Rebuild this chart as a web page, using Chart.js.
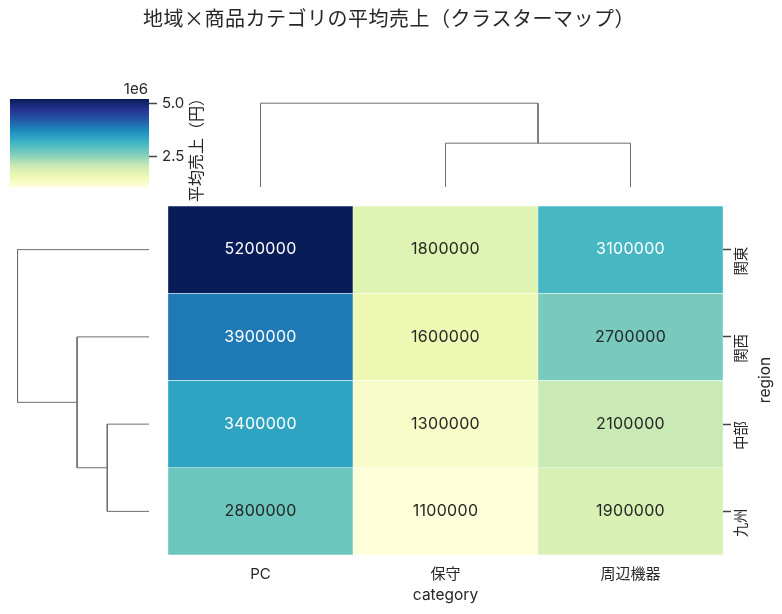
<!DOCTYPE html>
<html>
<head>
<meta charset="utf-8">
<title>クラスターマップ</title>
<script src="https://cdn.jsdelivr.net/npm/chart.js@4"></script>
<style>
  html, body { margin: 0; padding: 0; background: #fff; }
  #wrap { position: relative; width: 782px; height: 614px; overflow: hidden; }
  canvas { position: absolute; left: 0; top: 0; }
</style>
</head>
<body>
<div id="wrap">
  <canvas id="heat" width="782" height="614"></canvas>
  <canvas id="topTree" width="782" height="614"></canvas>
  <canvas id="leftTree" width="782" height="614"></canvas>
  <canvas id="colorbar" width="782" height="614"></canvas>
</div>
<script>
// data, in the clustered order of the picture
const categories = ['PC', '保守', '周辺機器'];
const regions = ['関東', '関西', '中部', '九州'];
const rowKanto = [5200000, 1800000, 3100000];
const rowKansai = [3900000, 1600000, 2700000];
const rowChubu = [3400000, 1300000, 2100000];
const rowKyushu = [2800000, 1100000, 1900000];
const rows = [rowKanto, rowKansai, rowChubu, rowKyushu];
const colorbarTicks = [2500000, 5000000];

// dendrogram links: leaf position along the heatmap, merge height in 1e6 yen
const topLinkPos = [[1.5, 1.5, 2.5, 2.5], [0.5, 0.5, 2, 2]];
const topLinkHeight = [[0, 2.04, 2.04, 0], [0, 3.9, 3.9, 2.04]];
const leftLinkPos = [[2.5, 2.5, 3.5, 3.5], [1.5, 1.5, 3, 3], [0.5, 0.5, 2.25, 2.25]];
const leftLinkHeight = [[0, 0.663, 0.663, 0], [0, 1.143, 1.143, 0.663], [0, 2.089, 2.089, 1.143]];

const FONT = 'Inter, "Noto Sans CJK JP", sans-serif';
const CJK_FONT = '"Noto Sans CJK JP", sans-serif';
const INK = '#262626';
const TREE = '#6e6e6e';
const TICK = '#444444';
const YLGNBU = ['#ffffd9', '#edf8b1', '#c7e9b4', '#7fcdbb', '#41b6c4', '#1d91c0', '#225ea8', '#253494', '#081d58'];

const vmin = Math.min(...rows.flat());
const vmax = Math.max(...rows.flat());

function rgbOf(hex) {
    return [1, 3, 5].map(i => parseInt(hex.substr(i, 2), 16));
}

function colorFor(v) {
    const t = (v - vmin) / (vmax - vmin) * (YLGNBU.length - 1);
    const i = Math.min(Math.floor(t), YLGNBU.length - 2);
    const a = rgbOf(YLGNBU[i]), b = rgbOf(YLGNBU[i + 1]);
    return a.map((c, k) => Math.round(c + (b[k] - c) * (t - i)));
}

// same rule seaborn uses to pick the annotation colour
function textColorFor(v) {
    const lin = colorFor(v).map(c => {
        c /= 255;
        return c <= 0.03928 ? c / 12.92 : Math.pow((c + 0.055) / 1.055, 2.4);
    });
    return 0.2126 * lin[0] + 0.7152 * lin[1] + 0.0722 * lin[2] < 0.408 ? '#ffffff' : INK;
}

function drawText(ctx, text, x, y, font, rotate, spacing) {
    ctx.save();
    ctx.translate(x, y);
    if (rotate) ctx.rotate(-Math.PI / 2);
    ctx.font = font;
    if (spacing) ctx.letterSpacing = spacing;
    ctx.fillStyle = INK;
    ctx.textAlign = 'center';
    ctx.textBaseline = 'middle';
    ctx.fillText(text, 0, 0);
    ctx.restore();
}

const base = {
    responsive: false,
    animation: false,
    events: [],
    plugins: { legend: { display: false }, title: { display: false }, tooltip: { enabled: false } }
};

// heatmap: one floating bar per cell, rows on a linear 0..4 axis
const heatDatasets = regions.map((name, r) => ({
    label: name,
    data: categories.map(() => [r, r + 1]),
    backgroundColor: rows[r].map(v => 'rgb(' + colorFor(v).join(',') + ')'),
    borderColor: '#ffffff',
    borderWidth: 0.5,
    borderSkipped: false,
    barPercentage: 1,
    categoryPercentage: 1,
    grouped: false
}));

const cellLabels = {
    id: 'cellLabels',
    afterDatasetsDraw(chart) {
        const { ctx, scales } = chart;
        ctx.save();
        ctx.font = '16px ' + FONT;
        ctx.letterSpacing = '0.3px';
        ctx.textAlign = 'center';
        ctx.textBaseline = 'middle';
        rows.forEach((row, r) => row.forEach((v, c) => {
            ctx.fillStyle = textColorFor(v);
            ctx.fillText(String(v), scales.x.getPixelForValue(c), scales.y.getPixelForValue(r + 0.5));
        }));
        ctx.restore();
    },
    afterDraw(chart) {
        drawText(chart.ctx, '地域×商品カテゴリの平均売上（クラスターマップ）', 389, 18.5, '20px ' + CJK_FONT, false, '0.5px');
        drawText(chart.ctx, 'region', 765, 380, '15.5px ' + FONT, true);
    }
};

new Chart(document.getElementById('heat'), {
    type: 'bar',
    data: { labels: categories, datasets: heatDatasets },
    plugins: [cellLabels],
    options: {
        ...base,
        layout: { padding: { left: 168, top: 206, right: 0, bottom: 0 } },
        scales: {
            x: {
                type: 'category',
                afterFit(s) { s.height = 59; },
                grid: { display: false },
                border: { display: false },
                ticks: { color: INK, padding: 2, maxRotation: 0, font: { family: FONT, size: 15 } },
                title: { display: true, text: 'category', color: INK, padding: { top: 0, bottom: 9 }, font: { family: FONT, size: 15.5 } }
            },
            y: {
                type: 'linear',
                position: 'right',
                min: 0,
                max: 4,
                reverse: true,
                afterFit(s) { s.width = 59; },
                afterBuildTicks(s) { s.ticks = regions.map((_, r) => ({ value: r + 0.5 })); },
                grid: { drawOnChartArea: false, drawTicks: true, tickLength: 8, tickColor: TICK, tickWidth: 1.5 },
                border: { display: false },
                ticks: {
                    color: INK,
                    padding: -3.5,
                    minRotation: 90,
                    maxRotation: 90,
                    crossAlign: 'center',
                    labelOffset: 11.5,
                    font: { family: FONT, size: 14.5 },
                    callback(v) { return regions[v - 0.5]; }
                }
            }
        }
    }
});

function linkSets(posList, heightList, toPoint) {
    return posList.map((pos, i) => ({
        data: pos.map((p, k) => toPoint(p, heightList[i][k])),
        showLine: true,
        borderColor: TREE,
        borderWidth: 1,
        pointRadius: 0,
        tension: 0
    }));
}

new Chart(document.getElementById('topTree'), {
    type: 'scatter',
    data: { datasets: linkSets(topLinkPos, topLinkHeight, (p, h) => ({ x: p, y: h })) },
    options: {
        ...base,
        layout: { padding: { left: 168, top: 99, right: 59, bottom: 427 } },
        scales: {
            x: { type: 'linear', min: 0, max: 3, display: false },
            y: { type: 'linear', min: 0, max: 4.095, display: false }
        }
    }
});

new Chart(document.getElementById('leftTree'), {
    type: 'scatter',
    data: { datasets: linkSets(leftLinkPos, leftLinkHeight, (p, h) => ({ x: h, y: p })) },
    options: {
        ...base,
        layout: { padding: { left: 11, top: 206, right: 633, bottom: 59 } },
        scales: {
            x: { type: 'linear', min: 0, max: 2.193, reverse: true, display: false },
            y: { type: 'linear', min: 0, max: 4, reverse: true, display: false }
        }
    }
});

const colorbarNotes = {
    id: 'colorbarNotes',
    afterDraw(chart) {
        const { ctx } = chart;
        ctx.save();
        ctx.font = '15px ' + FONT;
        ctx.fillStyle = INK;
        ctx.textAlign = 'right';
        ctx.textBaseline = 'middle';
        ctx.fillText('1e6', 148, 89);
        ctx.restore();
        drawText(ctx, '平均売上（円）', 197, 146, '16px ' + FONT, true);
    }
};

new Chart(document.getElementById('colorbar'), {
    type: 'bar',
    data: {
        labels: [''],
        datasets: [{
            data: [[vmin, vmax]],
            barPercentage: 1,
            categoryPercentage: 1,
            borderSkipped: false,
            backgroundColor(c) {
                const { chartArea, ctx } = c.chart;
                if (!chartArea) return YLGNBU[0];
                const g = ctx.createLinearGradient(0, chartArea.bottom, 0, chartArea.top);
                YLGNBU.forEach((col, i) => g.addColorStop(i / (YLGNBU.length - 1), col));
                return g;
            }
        }]
    },
    plugins: [colorbarNotes],
    options: {
        ...base,
        layout: { padding: { left: 10, top: 99, right: 0, bottom: 427 } },
        scales: {
            x: { display: false },
            y: {
                type: 'linear',
                position: 'right',
                min: vmin,
                max: vmax,
                afterFit(s) { s.width = 633; },
                afterBuildTicks(s) { s.ticks = colorbarTicks.map(v => ({ value: v })); },
                grid: { drawOnChartArea: false, drawTicks: true, tickLength: 8, tickColor: TICK, tickWidth: 1.5 },
                border: { display: false },
                ticks: {
                    color: INK,
                    padding: 5,
                    font: { family: FONT, size: 15 },
                    callback(v) { return (v / 1000000).toFixed(1); }
                }
            }
        }
    }
});
</script>
</body>
</html>
